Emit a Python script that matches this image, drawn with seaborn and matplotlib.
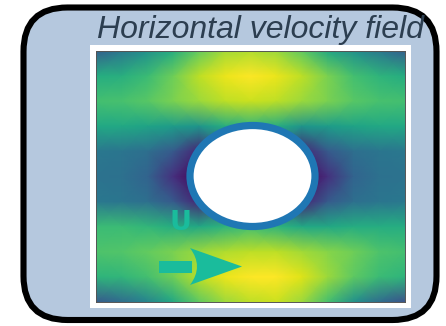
import numpy as np
import pandas as pd
import seaborn as sns
import matplotlib
matplotlib.use("Agg")
import matplotlib.pyplot as plt
from matplotlib.patches import FancyBboxPatch, Rectangle, Ellipse, PathPatch
from matplotlib.path import Path

# Horizontal velocity (normalised, 0 = stagnant, 1 = fastest) sampled on a
# 11 x 13 grid across the channel, rows from top wall to bottom wall.
row_00 = [0.30, 0.40, 0.50, 0.62, 0.76, 0.86, 0.88, 0.85, 0.75, 0.60, 0.50, 0.40, 0.30]
row_01 = [0.62, 0.63, 0.68, 0.78, 0.90, 0.97, 1.00, 0.97, 0.90, 0.80, 0.70, 0.65, 0.62]
row_02 = [0.70, 0.71, 0.74, 0.80, 0.85, 0.90, 0.92, 0.90, 0.85, 0.80, 0.74, 0.71, 0.70]
row_03 = [0.60, 0.60, 0.58, 0.55, 0.52, 0.62, 0.66, 0.62, 0.52, 0.55, 0.58, 0.60, 0.60]
row_04 = [0.40, 0.39, 0.36, 0.28, 0.10, 0.30, 0.35, 0.30, 0.10, 0.28, 0.36, 0.39, 0.40]
row_05 = [0.38, 0.37, 0.32, 0.14, 0.00, 0.30, 0.35, 0.30, 0.00, 0.14, 0.32, 0.37, 0.38]
row_06 = [0.40, 0.39, 0.36, 0.28, 0.10, 0.30, 0.35, 0.30, 0.10, 0.28, 0.36, 0.39, 0.40]
row_07 = [0.68, 0.68, 0.66, 0.62, 0.60, 0.65, 0.70, 0.65, 0.60, 0.60, 0.62, 0.62, 0.62]
row_08 = [0.72, 0.73, 0.76, 0.80, 0.85, 0.88, 0.90, 0.90, 0.86, 0.82, 0.78, 0.72, 0.70]
row_09 = [0.65, 0.66, 0.70, 0.78, 0.90, 0.97, 1.00, 1.00, 0.95, 0.85, 0.75, 0.68, 0.65]
row_10 = [0.28, 0.35, 0.45, 0.60, 0.75, 0.85, 0.90, 0.92, 0.85, 0.70, 0.50, 0.35, 0.25]

field = pd.DataFrame([row_00, row_01, row_02, row_03, row_04, row_05,
                      row_06, row_07, row_08, row_09, row_10])

title = "Horizontal velocity field"
flow_label = "U"

W, H = 446, 326
fig = plt.figure(figsize=(W / 100, H / 100), dpi=100)
fig.patch.set_facecolor("white")

# background panel (pixel coordinates)
bg = fig.add_axes([0, 0, 1, 1], zorder=0)
bg.set_xlim(0, W)
bg.set_ylim(H, 0)
bg.axis("off")
bg.add_patch(FancyBboxPatch((23.5, 7.5), 413, 312.5,
                            boxstyle="round,pad=0,rounding_size=44",
                            fc="#b5c8de", ec="black", lw=4.4))
bg.add_patch(Rectangle((90, 45), 321, 263, fc="white", ec="none"))
bg.text(97, 38, title, ha="left", va="baseline", fontsize=23,
        style="italic", family="Liberation Sans", color="#2c3e50")

# velocity field
sns.set_style("white")
ax = fig.add_axes([96 / W, (H - 302) / H, 309 / W, 251 / H], zorder=2)
sns.heatmap(field, cmap="viridis", vmin=0, vmax=1, cbar=False,
            xticklabels=False, yticklabels=False, shading="gouraud", ax=ax)
ax.set_xlim(0, field.shape[1] - 1)
ax.set_ylim(field.shape[0] - 1, 0)
for s in ax.spines.values():
    s.set_visible(True)
    s.set_color("#555555")
    s.set_linewidth(0.7)

# cylinder and free-stream arrow on top
ov = fig.add_axes([0, 0, 1, 1], zorder=3)
ov.set_xlim(0, W)
ov.set_ylim(H, 0)
ov.axis("off")
ov.patch.set_alpha(0)
ov.add_patch(Ellipse((252.5, 176), 125, 101, fc="white", ec="#1f77b4", lw=5.2))

teal = "#1abc9c"
ov.add_patch(Rectangle((159, 261), 33, 12, fc=teal, ec="none"))
head = Path([(190, 248), (242, 266.5), (190, 285), (204, 266.5), (190, 248)],
            [Path.MOVETO, Path.LINETO, Path.LINETO, Path.CURVE3, Path.CURVE3])
ov.add_patch(PathPatch(head, fc=teal, ec="none"))
ov.text(181, 223.5, flow_label, ha="center", va="center", fontsize=19.5,
        fontweight="bold", color=teal)

fig.savefig("out.png", dpi=100)
